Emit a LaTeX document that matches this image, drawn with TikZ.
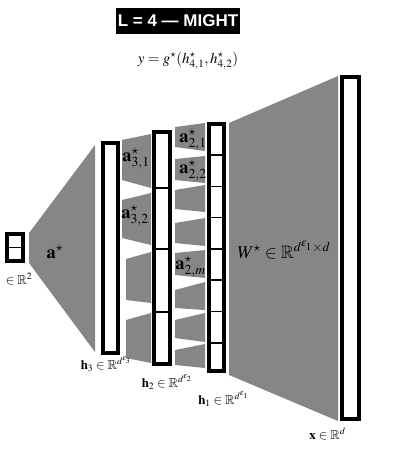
\documentclass[tikz,border=0pt]{standalone}
\usepackage{mathptmx}
\usepackage{amssymb}
\usepackage{fontspec}
\newfontfamily\titlefont[Ligatures=TeX]{Liberation Sans}
\definecolor{fillg}{RGB}{134,134,134}
\begin{document}
\begin{tikzpicture}[x=1pt,y=-1pt,
  vec/.style={draw=black,line width=4.2pt,fill=white,inner sep=0pt,rectangle},
  cellline/.style={draw=black,line width=1.6pt},
  wshape/.style={fill=fillg,draw=none},
  biglab/.style={inner sep=0pt,font=\fontsize{18.5}{18.5}\selectfont},
  midlab/.style={inner sep=0pt,font=\fontsize{18}{18}\selectfont},
  smalllab/.style={inner sep=0pt,font=\fontsize{13}{13}\selectfont}]
\useasboundingbox (0,0) rectangle (405,456);
% title
\node[fill=black,text=white,inner sep=0pt,minimum width=124pt,minimum height=26pt,
  font=\titlefont\bfseries\fontsize{17}{17}\selectfont] (title) at (178,21) {L = 4 — MIGHT};
\node[inner sep=0pt,font=\fontsize{15}{15}\selectfont] (formula) at (188,61)
  {$y=g^{\star}(h^{\star}_{4,1},h^{\star}_{4,2})$};
% gray maps
\path[wshape] (29,233) -- (95,145) -- (95,352) -- (29,263) -- cycle;
\path[wshape] (122,140) -- (151,134) -- (151,188) -- (122,180) -- cycle;
\path[wshape] (122,200) -- (151,193) -- (151,245) -- (122,238) -- cycle;
\path[wshape] (126,259) -- (151,252) -- (151,303) -- (126,300) -- cycle;
\path[wshape] (126,320) -- (151,313) -- (151,363) -- (126,358) -- cycle;
\foreach \lt/\lb/\rt/\rb in {127/147/123/151, 159/180/156/183, 190/209/185/212,
  223/243/218/246, 253/275/250/278, 290/308/282/310, 320/338/313/342, 350/365/344/368}
  \path[wshape] (175,\lt) -- (205,\rt) -- (205,\rb) -- (175,\lb) -- cycle;
\path[wshape] (229,123) -- (338,76) -- (338,421) -- (229,375) -- cycle;
% vectors
\node[vec,minimum width=15.8pt,minimum height=26.8pt] (h4) at (15,247.5) {};
\draw[cellline] (7,247.5) -- (23,247.5);
\node[vec,minimum width=14.8pt,minimum height=209.8pt] (h3) at (110.5,248) {};
\node[vec,minimum width=15.8pt,minimum height=231.8pt] (h2) at (162,248) {};
\foreach \y in {188,249,312} \draw[cellline] (154,\y) -- (170,\y);
\node[vec,minimum width=14.8pt,minimum height=246.8pt] (h1) at (216.5,247.5) {};
\foreach \y in {155,186.5,217.5,249,280,311.5,343} \draw[cellline] (209,\y) -- (224,\y);
\node[vec,minimum width=16.8pt,minimum height=341.8pt] (x) at (350.5,248) {};
% labels
\node[biglab] (la) at (55,252) {$\mathbf{a}^{\star}$};
\node[biglab] (la31) at (136,159) {$\mathbf{a}^{\star}_{3,1}$};
\node[biglab] (la32) at (135,216) {$\mathbf{a}^{\star}_{3,2}$};
\node[biglab] (la21) at (193,140) {$\mathbf{a}^{\star}_{2,1}$};
\node[biglab] (la22) at (193,170.5) {$\mathbf{a}^{\star}_{2,2}$};
\node[biglab] (la2m) at (190.5,266.5) {$\mathbf{a}^{\star}_{2,m}$};
\node[midlab] (lw) at (284,250) {$W^{\star}\in\mathbb{R}^{d^{\varepsilon_1}\times d}$};
\node[smalllab] (lh4) at (19,279) {$\in\mathbb{R}^2$};
\node[smalllab] (lh3) at (106,364) {$\mathbf{h}_3\in\mathbb{R}^{d^{\varepsilon_3}}$};
\node[smalllab] (lh2) at (167,382) {$\mathbf{h}_2\in\mathbb{R}^{d^{\varepsilon_2}}$};
\node[smalllab] (lh1) at (223.5,399) {$\mathbf{h}_1\in\mathbb{R}^{d^{\varepsilon_1}}$};
\node[smalllab] (lx) at (327.5,434) {$\mathbf{x}\in\mathbb{R}^{d}$};
\end{tikzpicture}
\end{document}
